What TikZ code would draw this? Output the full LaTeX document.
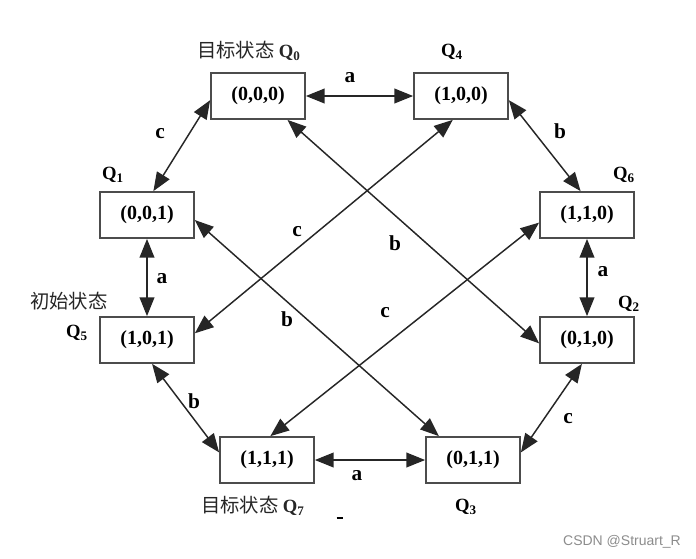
\documentclass[tikz,border=0pt]{standalone}
\usepackage{fontspec}
\setmainfont{Liberation Serif}
\newfontfamily\cjkfont{Noto Sans CJK SC}
\newfontfamily\wmfont{Liberation Sans}
\usepackage{tikz}
\usetikzlibrary{arrows.meta,positioning,calc}

\tikzset{
  state/.style={draw=black!70, line width=1.3pt, minimum width=70.5pt, minimum height=34.5pt,
    inner sep=0pt, font=\fontsize{15}{18}\selectfont\bfseries},
  lbl/.style={font=\fontsize{16}{18}\selectfont\bfseries, inner sep=0pt},
  qlbl/.style={font=\fontsize{14}{16}\selectfont\bfseries, inner sep=0pt},
  cjk/.style={font=\fontsize{14.5}{16}\selectfont\cjkfont, text=black!85, inner sep=0pt},
  link/.style={{Triangle[length=14pt,width=11pt]}-{Triangle[length=14pt,width=11pt]}, draw=black!85, line width=1.1pt}
}

\begin{document}
\begin{tikzpicture}[auto, x=0.75pt, y=-0.75pt]
  \useasboundingbox (0,0) rectangle (696,558);

  % Define coordinates for nodes
  \node[state] (Q0) at (258,96) {(0,0,0)};
  \node[state] (Q4) at (461,96) {(1,0,0)};
  \node[state] (Q1) at (147,215) {(0,0,1)};
  \node[state] (Q6) at (587,215) {(1,1,0)};
  \node[state] (Q5) at (147,340) {(1,0,1)};
  \node[state] (Q2) at (587,340) {(0,1,0)};
  \node[state] (Q7) at (267,460) {(1,1,1)};
  \node[state] (Q3) at (473,460) {(0,1,1)};

  % State names
  \node[cjk] (t0) at (249,51) {目标状态\ \textrm{\bfseries\fontsize{14}{16}\selectfont Q\textsubscript{0}}};
  \node[qlbl] (t4) at (452,52) {Q\textsubscript{4}};
  \node[qlbl] (t1) at (113,175) {Q\textsubscript{1}};
  \node[qlbl] (t6) at (624,175) {Q\textsubscript{6}};
  \node[cjk] (t5a) at (69,301) {初始状态};
  \node[qlbl] (t5) at (77,333) {Q\textsubscript{5}};
  \node[qlbl] (t2) at (629,304) {Q\textsubscript{2}};
  \node[cjk] (t7) at (253,506) {目标状态\ \textrm{\bfseries\fontsize{14}{16}\selectfont Q\textsubscript{7}}};
  \node[qlbl] (t3) at (466,507) {Q\textsubscript{3}};

  % Edge letters
  \node[lbl] (a04) at (350,78) {a};
  \node[lbl] (c01) at (160,134) {c};
  \node[lbl] (b46) at (560,131) {b};
  \node[lbl] (a15) at (162,279) {a};
  \node[lbl] (a62) at (603,272) {a};
  \node[lbl] (b57) at (194,401) {b};
  \node[lbl] (c23) at (568,419) {c};
  \node[lbl] (a73) at (357,476) {a};
  \node[lbl] (c45) at (297,232) {c};
  \node[lbl] (b02) at (395,243) {b};
  \node[lbl] (b13) at (287,319) {b};
  \node[lbl] (c67) at (385,313) {c};

  % Draw arrows between nodes
  \draw[link] (Q0.east) -- (Q4.west);
  \draw[link] (Q0.185) -- (Q1.75);
  \draw[link] (Q4.-5) -- (Q6.105);
  \draw[link] (Q1.south) -- (Q5.north);
  \draw[link] (Q6.south) -- (Q2.north);
  \draw[link] (Q5.-78) -- (Q7.171);
  \draw[link] (Q2.-102) -- (Q3.9);
  \draw[link] (Q7.east) -- (Q3.west);
  \draw[link] (Q0.-39) -- (Q2.184);
  \draw[link] (Q4.-109) -- (Q5.8);
  \draw[link] (Q1.-6) -- (Q3.145);
  \draw[link] (Q6.189) -- (Q7.82);

  % stray mark and watermark
  \node[inner sep=0pt] (mark) at (340,518) {\rule{5pt}{1.2pt}};
  \node[inner sep=0pt, text=black!45, font=\wmfont\fontsize{10.5}{12}\selectfont] (wm) at (622,542) {CSDN @Struart\_R};

\end{tikzpicture}
\end{document}
